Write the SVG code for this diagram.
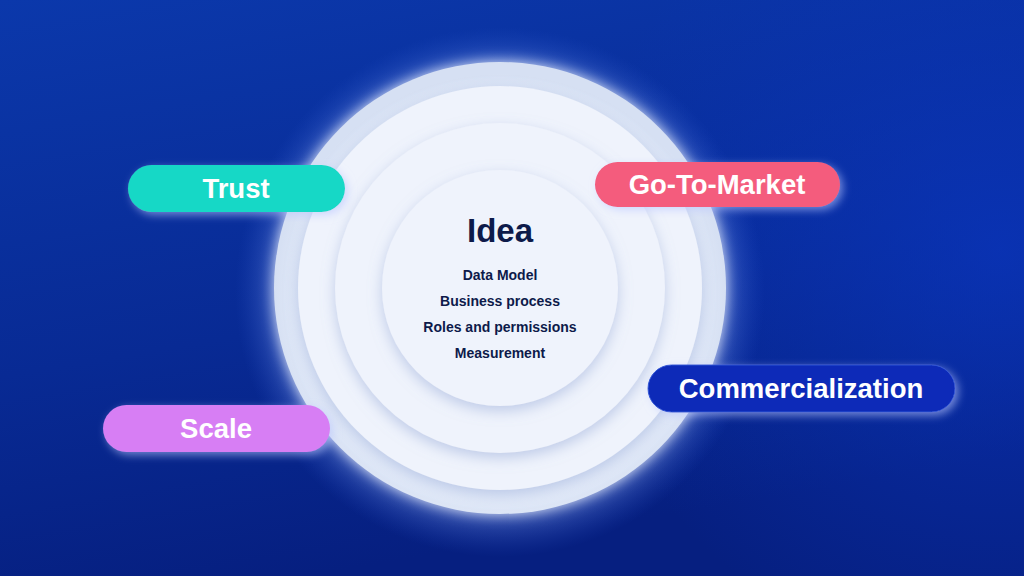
<svg xmlns="http://www.w3.org/2000/svg" width="1024" height="576" viewBox="0 0 1024 576">
<defs>
<linearGradient id="bg" x1="0" y1="0" x2="0.3" y2="1">
<stop offset="0" stop-color="#0b38ab"/>
<stop offset="0.6" stop-color="#082a94"/>
<stop offset="1" stop-color="#061f80"/>
</linearGradient>
<radialGradient id="rightLight" cx="1000" cy="250" r="420" gradientUnits="userSpaceOnUse">
<stop offset="0" stop-color="#0a36c0" stop-opacity="0.7"/>
<stop offset="1" stop-color="#0a36c0" stop-opacity="0"/>
</radialGradient>
<radialGradient id="glow" cx="500" cy="292" r="265" gradientUnits="userSpaceOnUse">
<stop offset="0.82" stop-color="#9db9ff" stop-opacity="0.45"/>
<stop offset="1" stop-color="#2a55d0" stop-opacity="0"/>
</radialGradient>
<filter id="outerGlow" x="-30%" y="-30%" width="160%" height="160%">
<feGaussianBlur in="SourceAlpha" stdDeviation="7" result="b"/>
<feFlood flood-color="#eef3ff" flood-opacity="0.9"/>
<feComposite in2="b" operator="in" result="g"/>
<feMerge><feMergeNode in="g"/><feMergeNode in="SourceGraphic"/></feMerge>
</filter>
<filter id="ringShadow" x="-20%" y="-20%" width="140%" height="140%">
<feDropShadow dx="0" dy="5" stdDeviation="7" flood-color="#8fa3d4" flood-opacity="0.5"/>
</filter>
<radialGradient id="outerFill" cx="500" cy="300" r="226" gradientUnits="userSpaceOnUse">
<stop offset="0.85" stop-color="#e6edfa"/>
<stop offset="1" stop-color="#d6e0f3"/>
</radialGradient>
<filter id="pillShadow" x="-20%" y="-40%" width="140%" height="190%">
<feDropShadow dx="3" dy="3" stdDeviation="4" flood-color="#b9c6ff" flood-opacity="0.6"/>
</filter>
<style>
.pill-text{font-family:"Liberation Sans","Inter",Arial,sans-serif;font-weight:700;font-size:27.5px;fill:#ffffff;text-anchor:middle}
.idea{font-family:"Liberation Sans","Inter",Arial,sans-serif;font-weight:700;font-size:33px;fill:#0d1a4a;text-anchor:middle}
.item{font-family:"Liberation Sans","Inter",Arial,sans-serif;font-weight:700;font-size:14px;fill:#0d1a4a;text-anchor:middle}
.ring{fill:#eff3fc}
</style>
</defs>
<rect width="1024" height="576" fill="url(#bg)"/>
<rect width="1024" height="576" fill="url(#rightLight)"/>
<circle cx="500" cy="292" r="265" fill="url(#glow)"/>

<g id="rings">
<circle id="ring-outer" cx="500" cy="288" r="226" fill="url(#outerFill)" filter="url(#outerGlow)"/>
<circle id="ring-2" cx="500" cy="288" r="202" class="ring" filter="url(#ringShadow)"/>
<circle id="ring-3" cx="500" cy="288" r="165" class="ring" filter="url(#ringShadow)"/>
<circle id="ring-inner" cx="500" cy="288" r="118" class="ring" filter="url(#ringShadow)"/>
</g>

<g id="idea">
<text class="idea" x="500" y="242">Idea</text>
<text class="item" x="500" y="280">Data Model</text>
<text class="item" x="500" y="306">Business process</text>
<text class="item" x="500" y="332">Roles and permissions</text>
<text class="item" x="500" y="358">Measurement</text>
</g>

<g id="connectors"></g>

<g id="trust">
<rect x="128" y="165" width="217" height="47" rx="23.5" fill="#12d8c6" filter="url(#pillShadow)"/>
<text class="pill-text" x="236" y="198">Trust</text>
</g>
<g id="go-to-market">
<rect x="595" y="162" width="245" height="45" rx="22.5" fill="#f45b7d" filter="url(#pillShadow)"/>
<text class="pill-text" x="717" y="194">Go-To-Market</text>
</g>
<g id="commercialization">
<rect x="648" y="365" width="307" height="47" rx="23.5" fill="#0a2cb8" stroke="#2f55d6" stroke-width="1" filter="url(#pillShadow)"/>
<text class="pill-text" x="801" y="398">Commercialization</text>
</g>
<g id="scale">
<rect x="103" y="405" width="227" height="47" rx="23.5" fill="#d77ef4" filter="url(#pillShadow)"/>
<text class="pill-text" x="216" y="438">Scale</text>
</g>
</svg>
